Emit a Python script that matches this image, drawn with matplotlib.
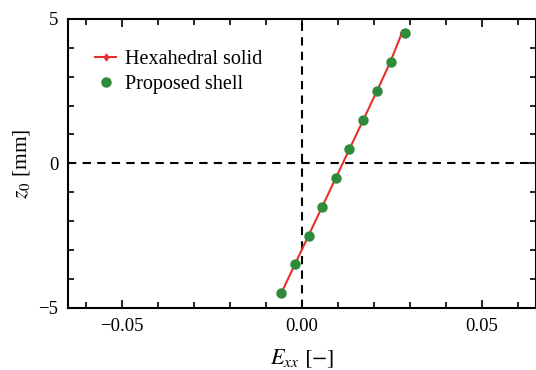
import matplotlib
matplotlib.use('Agg')
import matplotlib.pyplot as plt
from matplotlib.ticker import MultipleLocator, FuncFormatter

plt.rcParams['font.family'] = ['Liberation Serif', 'DejaVu Serif']
plt.rcParams['mathtext.fontset'] = 'stix'

# through-thickness positions [mm]
z_solid = [-4.5, -3.5, -2.5, -1.5, -0.5, 0.5, 1.5, 2.5, 3.5, 4.5]
e_solid = [-0.0058, -0.0020, 0.0018, 0.0056, 0.0094, 0.0132, 0.0170, 0.0208, 0.0245, 0.0277]

z_shell = [-4.5, -3.5, -2.5, -1.5, -0.5, 0.5, 1.5, 2.5, 3.5, 4.5]
e_shell = [-0.0058, -0.0020, 0.0019, 0.0056, 0.0093, 0.0131, 0.0170, 0.0208, 0.0246, 0.0286]

fig = plt.figure(figsize=(5.36, 3.70), dpi=100)
ax = fig.add_axes([0.127, 0.168, 0.873, 0.781])

ax.axhline(0, color='black', lw=1.5, ls=(0, (4, 3)), zorder=1)
ax.axvline(0, color='black', lw=1.5, ls=(0, (4, 3)), zorder=1)

ax.plot(e_solid, z_solid, color='#e8302a', lw=1.5, marker='d', ms=3.5,
        label='Hexahedral solid', zorder=2)
ax.plot(e_shell, z_shell, ls='none', marker='o', ms=6.5, color='#2e8b3a',
        label='Proposed shell', zorder=3)

ax.set_xlim(-0.065, 0.065)
ax.set_ylim(-5, 5)
ax.xaxis.set_major_locator(MultipleLocator(0.05))
ax.xaxis.set_minor_locator(MultipleLocator(0.01))
ax.yaxis.set_major_locator(MultipleLocator(5))
ax.yaxis.set_minor_locator(MultipleLocator(1))
ax.xaxis.set_major_formatter(FuncFormatter(
    lambda v, p: '\u2212%.2f' % abs(v) if v < -1e-9 else '%.2f' % abs(v)))
ax.yaxis.set_major_formatter(FuncFormatter(
    lambda v, p: '\u2212%d' % abs(v) if v < 0 else '%d' % v))

ax.tick_params(which='both', direction='in', top=True, right=True,
               labelsize=13.5, width=1.2)
ax.tick_params(which='major', length=6, pad=7)
ax.tick_params(which='minor', length=4)
for s in ax.spines.values():
    s.set_linewidth(1.5)

ax.set_xlabel(r'$E_{xx}$ $[-]$', fontsize=16, labelpad=9)
ax.set_ylabel(r'$z_0$ [mm]', fontsize=15.5)
ax.yaxis.set_label_coords(-0.077, 0.5)

ax.legend(loc='upper left', frameon=False, fontsize=14.5, handlelength=1.05,
          handletextpad=0.45, borderaxespad=0, borderpad=0, labelspacing=0.25,
          bbox_to_anchor=(0.058, 0.891))

fig.savefig('out.png', dpi=100)
